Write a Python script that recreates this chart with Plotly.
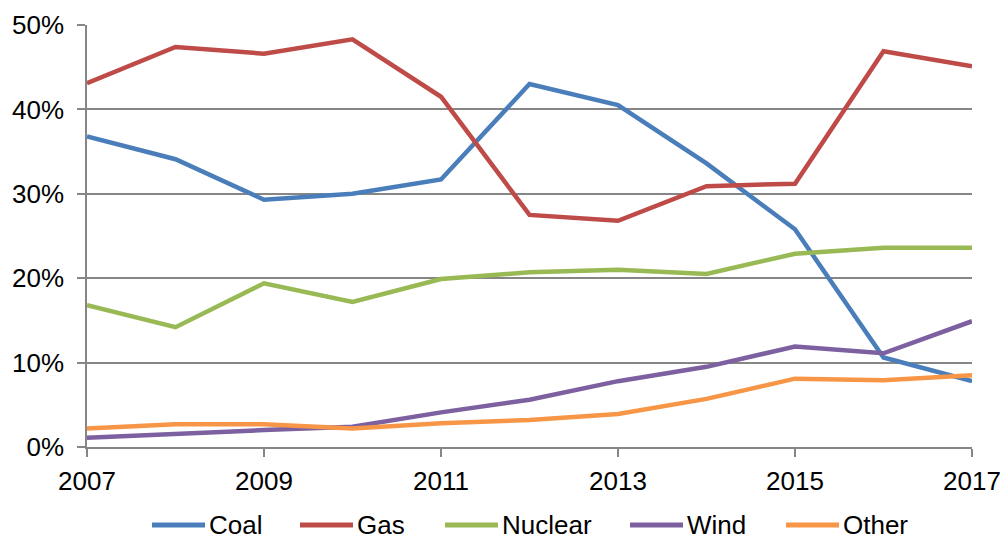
import plotly.graph_objects as go

years = list(range(2007, 2018))
coal = [36.8, 34.1, 29.3, 30.0, 31.7, 43.0, 40.5, 33.6, 25.8, 10.6, 7.8]
gas = [43.1, 47.4, 46.6, 48.3, 41.5, 27.5, 26.8, 30.9, 31.2, 46.9, 45.1]
nuclear = [16.8, 14.2, 19.4, 17.2, 19.9, 20.7, 21.0, 20.5, 22.9, 23.6, 23.6]
wind = [1.1, 1.6, 2.0, 2.4, 4.1, 5.6, 7.8, 9.5, 11.9, 11.1, 14.9]
other = [2.2, 2.7, 2.7, 2.2, 2.8, 3.2, 3.9, 5.7, 8.1, 7.9, 8.5]

names = ["Coal", "Gas", "Nuclear", "Wind", "Other"]
colors = ["#4A7EBB", "#BE4B48", "#98B954", "#7D60A0", "#F79646"]
values = [coal, gas, nuclear, wind, other]

W, H = 1003, 542
ML, MR, MT, MB = 87, 31, 25, 95
PW, PH = W - ML - MR, H - MT - MB

fig = go.Figure()
for name, vals, color in zip(names, values, colors):
    fig.add_trace(go.Scatter(
        x=years, y=[v / 100 for v in vals], name=name, mode="lines",
        line=dict(color=color, width=4.5), showlegend=False,
    ))

# manual legend (pixel layout converted to paper coords)
legend_x = [152, 300, 445, 630, 786]
legend_y = 525
line_len = 53
for name, color, lx in zip(names, colors, legend_x):
    x0 = (lx - ML) / PW
    x1 = (lx + line_len - ML) / PW
    yy = (H - MB - legend_y) / PH
    fig.add_shape(type="line", xref="paper", yref="paper", x0=x0, x1=x1, y0=yy, y1=yy,
                  line=dict(color=color, width=5), layer="above")
    fig.add_annotation(xref="paper", yref="paper", x=(lx + line_len + 3 - ML) / PW, y=yy,
                       text=name, showarrow=False, xanchor="left", yanchor="middle",
                       borderpad=0, font=dict(size=26, color="black"))

fig.update_layout(
    width=W, height=H,
    margin=dict(l=ML, r=MR, t=MT, b=MB, autoexpand=False),
    paper_bgcolor="white", plot_bgcolor="white",
    font=dict(family="Liberation Sans, Arial, sans-serif", size=26, color="black"),
    showlegend=False,
)
fig.update_xaxes(
    range=[2007, 2017], tickmode="array", tickvals=[2007, 2009, 2011, 2013, 2015, 2017],
    showgrid=False, showline=True, linecolor="#868686", linewidth=1.5,
    ticks="outside", ticklen=8, tickcolor="#868686", tickwidth=1.5,
    zeroline=False, ticklabelstandoff=2, tickfont=dict(size=26),
)
fig.update_yaxes(
    range=[0, 0.5], tickvals=[0, 0.1, 0.2, 0.3, 0.4, 0.5], tickformat=".0%",
    showgrid=True, gridcolor="#868686", gridwidth=1.5,
    showline=True, linecolor="#868686", linewidth=1.5,
    ticks="outside", ticklen=8, tickcolor="#868686", tickwidth=1.5,
    zeroline=False, tickfont=dict(size=26), ticklabelstandoff=8,
)
fig.write_html("out.html")
